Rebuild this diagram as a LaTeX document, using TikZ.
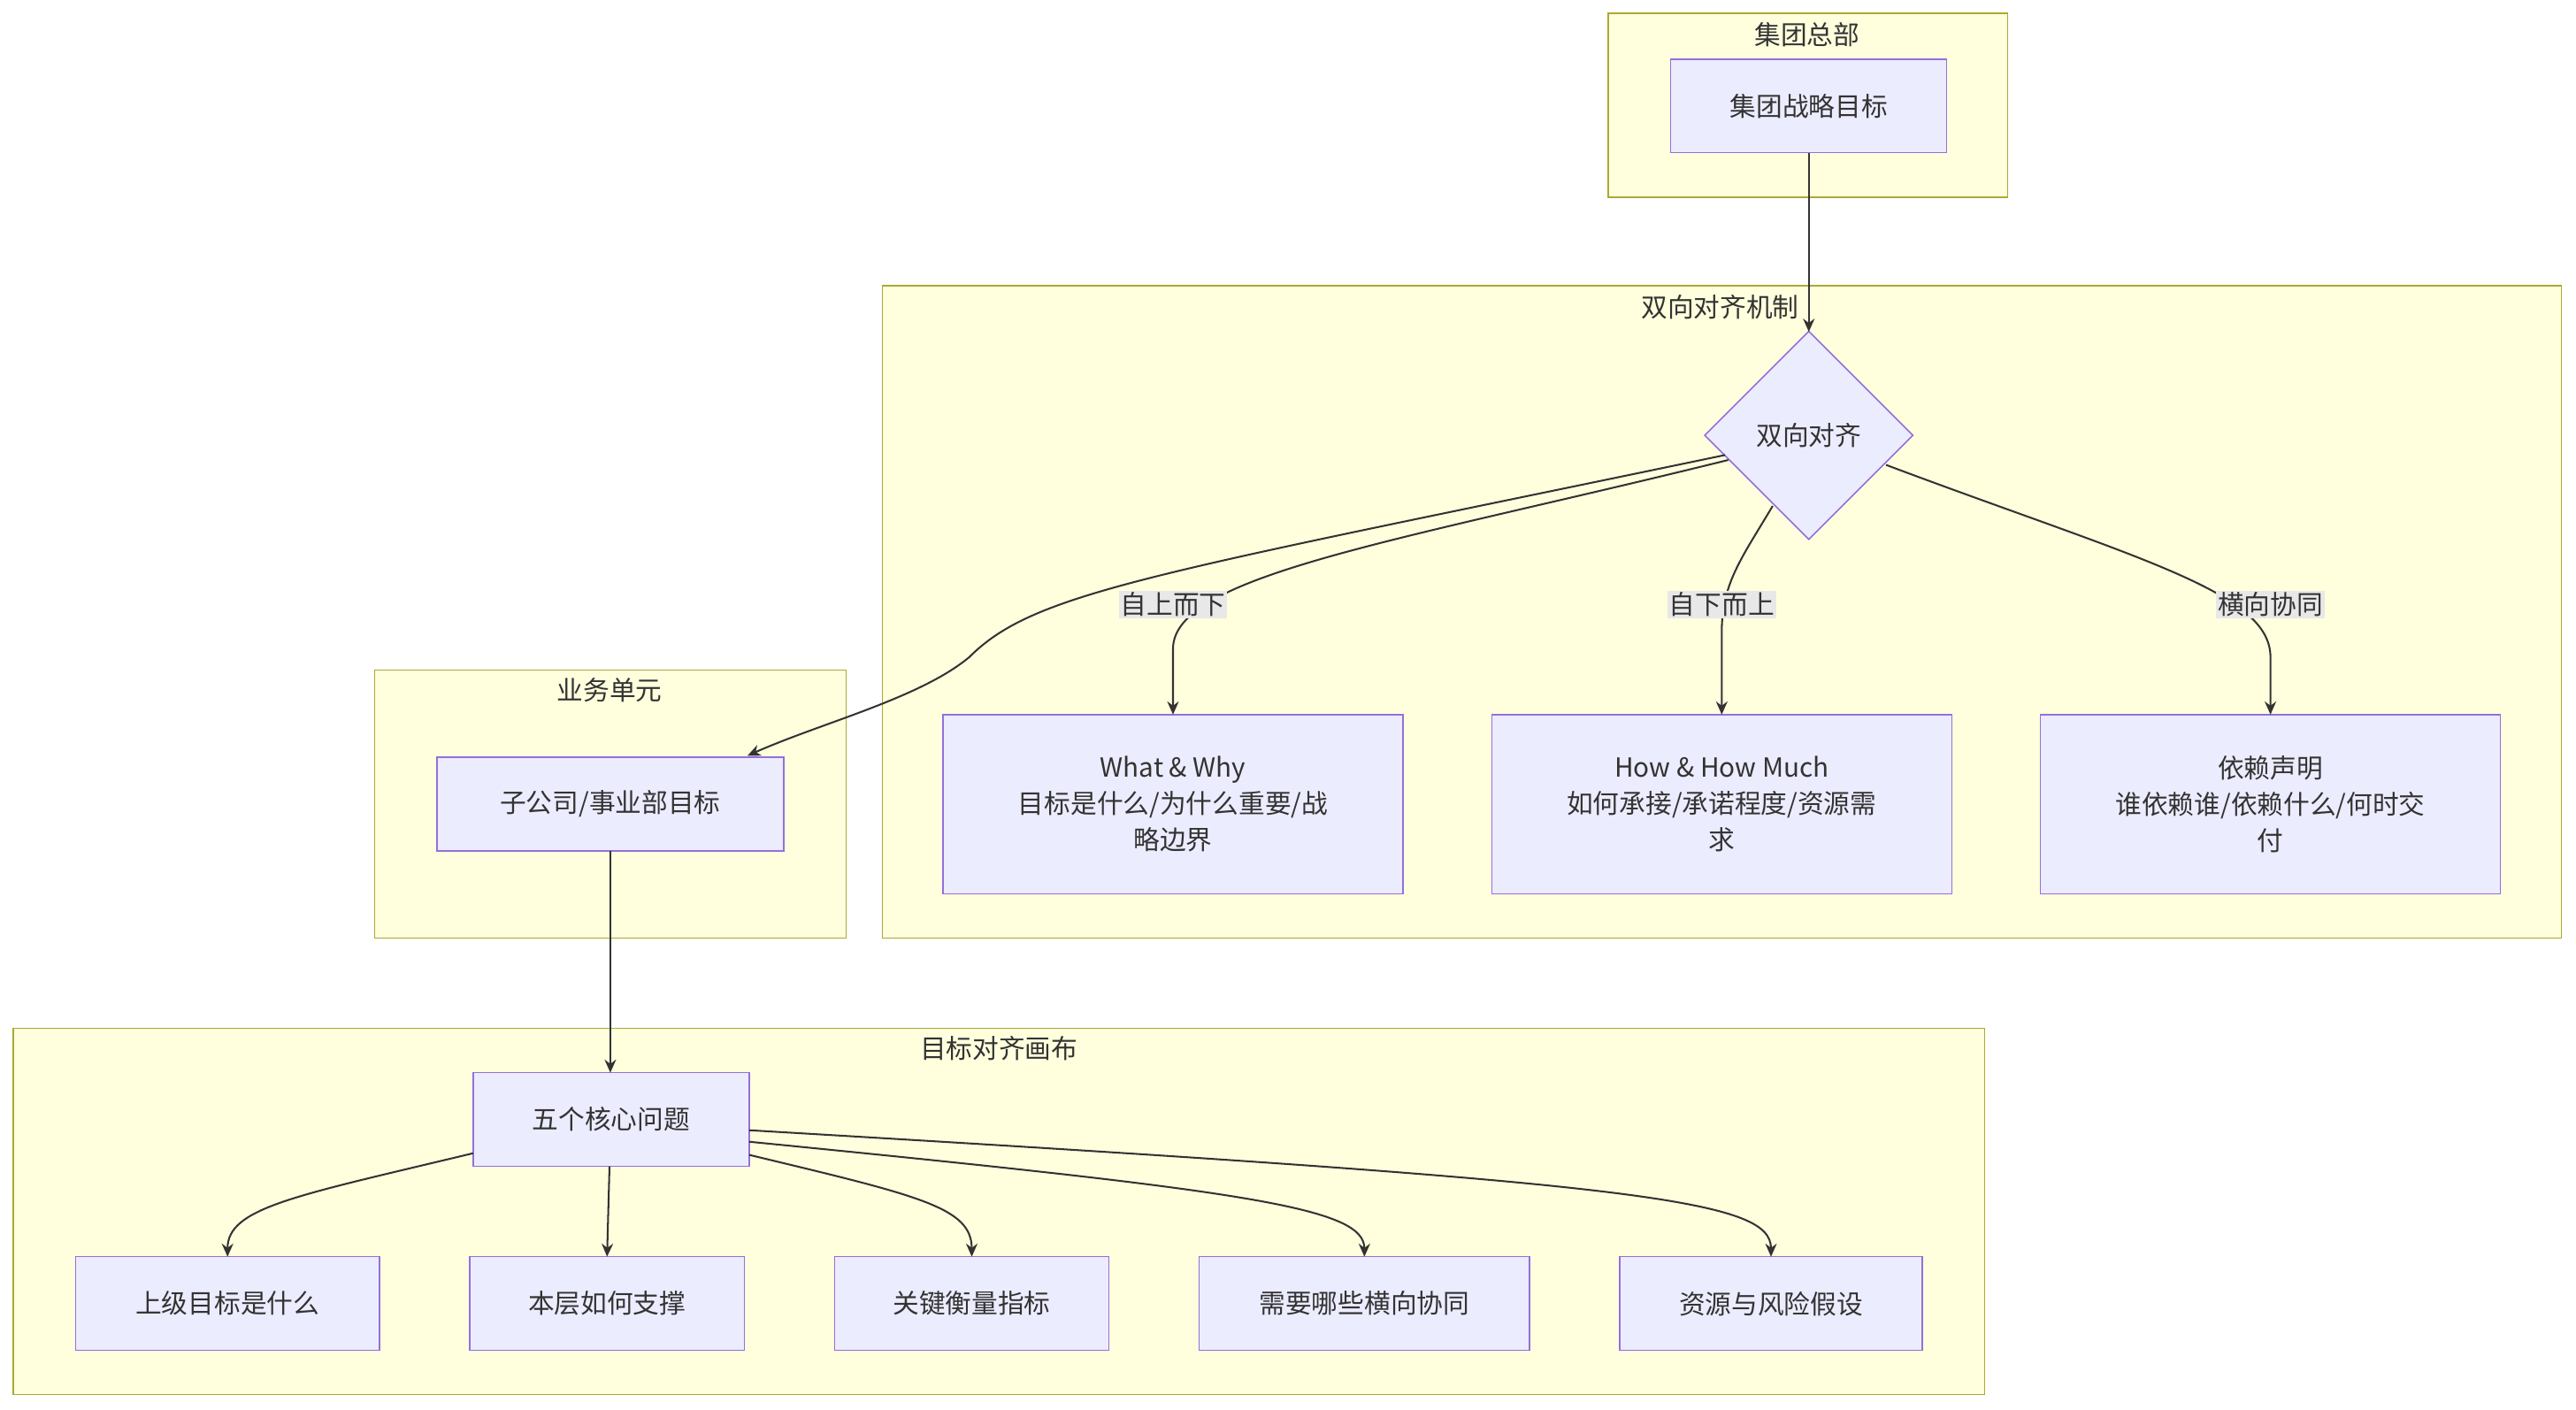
\documentclass[tikz,border=0pt]{standalone}
\usepackage{fontspec}
\setmainfont{Liberation Sans}
\newfontfamily\cjk{Noto Sans CJK SC}
\usetikzlibrary{shapes.geometric,arrows.meta}
\definecolor{cfill}{HTML}{FFFFDE}
\definecolor{cline}{HTML}{AAAA33}
\definecolor{nfill}{HTML}{ECECFF}
\definecolor{nline}{HTML}{9370DB}
\definecolor{eline}{HTML}{333333}
\definecolor{lbg}{HTML}{E8E8E8}
\begin{document}
\begin{tikzpicture}[x=1pt,y=-1pt,font=\cjk\fontsize{16}{22}\selectfont,
 clus/.style={draw=cline,fill=cfill,line width=0.8pt},
 nbox/.style={draw=nline,fill=nfill,line width=0.8pt},
 edge/.style={draw=eline,line width=1.1pt,-{Stealth[length=8pt,width=7pt]}},
 elab/.style={fill=lbg,inner sep=1pt,text=eline},
 txt/.style={text=eline,align=center}]
\useasboundingbox (0,0) rectangle (1568,858);
% clusters
\draw[clus] (979,8) rectangle (1222,120); \node[txt] (c1) at (1100,21) {集团总部};
\draw[clus] (537,174) rectangle (1559,571); \node[txt] (c2) at (1047,187) {双向对齐机制};
\draw[clus] (228,408) rectangle (515,571); \node[txt] (c3) at (371,420) {业务单元};
\draw[clus] (8,626) rectangle (1208,849); \node[txt] (c4) at (608,638) {目标对齐画布};
% nodes
\draw[nbox] (1017,36) rectangle (1185,93); \node[txt] (g) at (1101,64.5) {集团战略目标};
\node[diamond,nbox,minimum width=127pt,minimum height=127pt,inner sep=0pt] (d) at (1101,265) {};
\node[txt] at (1101,265) {双向对齐};
\draw[nbox] (574,435) rectangle (854,544); \node[txt] (w) at (714,489.5) {What \& Why\\目标是什么/为什么重要/战\\略边界};
\draw[nbox] (908,435) rectangle (1188,544); \node[txt] (h) at (1048,489.5) {How \& How Much\\如何承接/承诺程度/资源需\\求};
\draw[nbox] (1242,435) rectangle (1522,544); \node[txt] (y) at (1382,489.5) {依赖声明\\谁依赖谁/依赖什么/何时交\\付};
\draw[nbox] (266,461) rectangle (477,518); \node[txt] (s) at (371.5,489.5) {子公司/事业部目标};
\draw[nbox] (288,653) rectangle (456,710); \node[txt] (f) at (372,681.5) {五个核心问题};
\draw[nbox] (46,765) rectangle (231,822); \node[txt] (b1) at (138.5,793.5) {上级目标是什么};
\draw[nbox] (286,765) rectangle (453,822); \node[txt] (b2) at (369.5,793.5) {本层如何支撑};
\draw[nbox] (508,765) rectangle (675,822); \node[txt] (b3) at (591.5,793.5) {关键衡量指标};
\draw[nbox] (730,765) rectangle (931,822); \node[txt] (b4) at (830.5,793.5) {需要哪些横向协同};
\draw[nbox] (986,765) rectangle (1170,822); \node[txt] (b5) at (1078,793.5) {资源与风险假设};
% edges
\coordinate (g0) at (1101,93); \coordinate (d0) at (1101,202);
\draw[edge] (g0) -- (d0);
\coordinate (dl) at (1050,277); \coordinate (st) at (455,460);
\draw[edge] (dl) .. controls (700,350) and (630,360) .. (590,400) .. controls (560,425) and (500,440) .. (st);
\coordinate (dl2) at (1052,280); \coordinate (wt) at (714,435);
\draw[edge] (dl2) .. controls (850,330) and (714,350) .. (714,395) -- (wt);
\node[elab] at (714,368) {自上而下};
\coordinate (db) at (1079,308); \coordinate (ht) at (1048,435);
\draw[edge] (db) .. controls (1060,340) and (1048,355) .. (1048,385) -- (ht);
\node[elab] at (1048,368) {自下而上};
\coordinate (dr) at (1148,283); \coordinate (yt) at (1382,435);
\draw[edge] (dr) .. controls (1300,340) and (1382,360) .. (1382,400) -- (yt);
\node[elab] at (1382,368) {横向协同};
\coordinate (s0) at (371.5,518); \coordinate (f0) at (371.5,653);
\draw[edge] (s0) -- (f0);
\coordinate (f1) at (288,702); \coordinate (t1) at (138.5,765);
\draw[edge] (f1) .. controls (180,728) and (138.5,735) .. (t1);
\coordinate (f2) at (371,710); \coordinate (t2) at (369.5,765);
\draw[edge] (f2) -- (t2);
\coordinate (f3) at (456,703); \coordinate (t3) at (591.5,765);
\draw[edge] (f3) .. controls (560,728) and (591.5,735) .. (t3);
\coordinate (f4) at (456,695); \coordinate (t4) at (830.5,765);
\draw[edge] (f4) .. controls (760,725) and (830.5,735) .. (t4);
\coordinate (f5) at (456,688); \coordinate (t5) at (1078,765);
\draw[edge] (f5) .. controls (1000,720) and (1078,730) .. (t5);
\end{tikzpicture}
\end{document}
